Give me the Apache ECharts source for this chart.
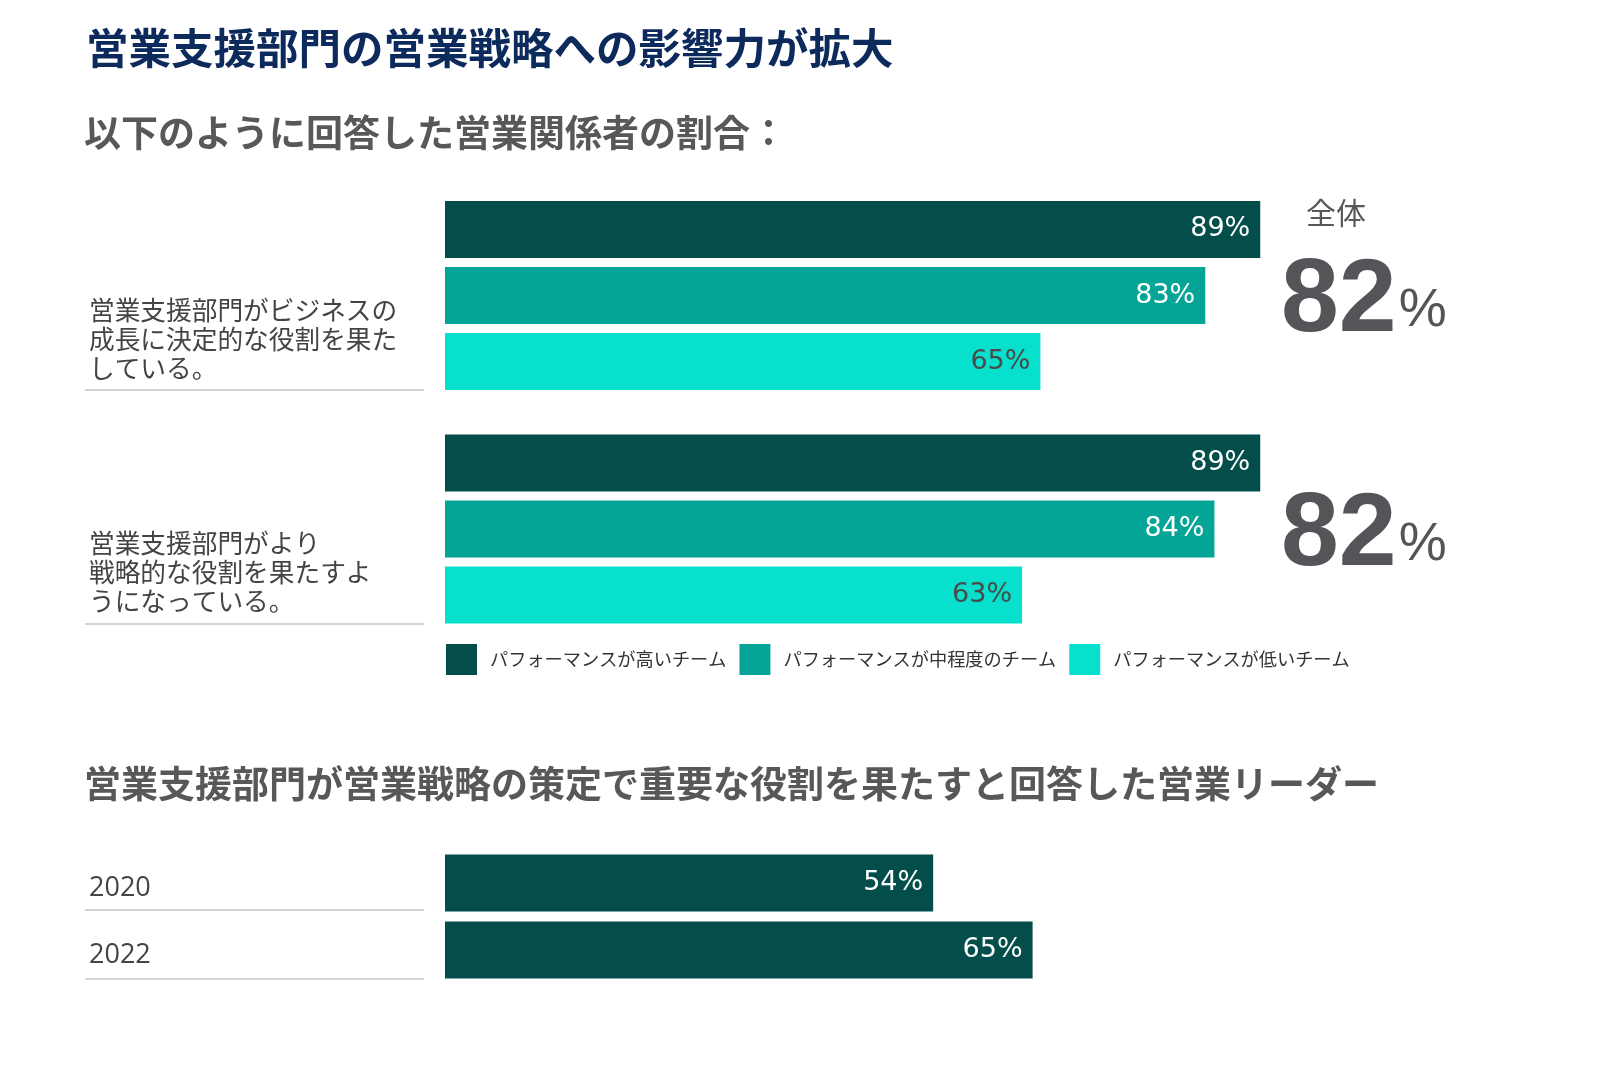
<!DOCTYPE html>
<html><head><meta charset="utf-8">
<script src="https://cdn.jsdelivr.net/npm/echarts@6/dist/echarts.min.js"></script>
<style>html,body{margin:0;padding:0;background:#fff}#c{width:1600px;height:1073px}</style>
</head><body><div id="c"></div>
<script>
const mainTitle = '営業支援部門の営業戦略への影響力が拡大';
const subTitle1 = '以下のように回答した営業関係者の割合：';
const subTitle2 = '営業支援部門が営業戦略の策定で重要な役割を果たすと回答した営業リーダー';
const overallLabel = '全体';
const categories = ['営業支援部門がビジネスの\n成長に決定的な役割を果た\nしている。', '営業支援部門がより\n戦略的な役割を果たすよ\nうになっている。'];
const seriesNames = ['パフォーマンスが高いチーム', 'パフォーマンスが中程度のチーム', 'パフォーマンスが低いチーム'];
const highPerf = [89, 89];
const midPerf = [83, 84];
const lowPerf = [65, 63];
const overall = [82, 82];
const years = ['2020', '2022'];
const leaderValues = [54, 65];

const colors = ['#034e4a', '#04a597', '#06e0cc'];
const labelColors = ['#ffffff', '#ffffff', '#4a4a4a'];
const jp = '"Noto Sans CJK JP", "Noto Sans", sans-serif';
const num = '"DejaVu Sans", sans-serif';

const chart = echarts.init(document.getElementById('c'));
const topData = [highPerf, midPerf, lowPerf];

const barLabel = (c) => ({
  show: true, position: 'insideRight', distance: 10,
  formatter: '{c}%', color: c, fontSize: 27, letterSpacing: 1, fontFamily: num
});

const option = {
  animation: false,
  backgroundColor: '#ffffff',
  title: [
    { text: mainTitle, left: 86, top: 27, padding: 0,
      textStyle: { fontSize: 42.5, fontWeight: 'bold', color: '#0d2a5c', fontFamily: jp } },
    { text: subTitle1, left: 84, top: 114, padding: 0,
      textStyle: { fontSize: 37, fontWeight: 'bold', color: '#58585a', fontFamily: jp } },
    { text: subTitle2, left: 84, top: 765, padding: 0,
      textStyle: { fontSize: 37, fontWeight: 'bold', color: '#58585a', fontFamily: jp } },
    { text: overallLabel, left: 1306, top: 198, padding: 0,
      textStyle: { fontSize: 30, fontWeight: 'normal', color: '#58585a', fontFamily: jp } }
  ],
  legend: {
    left: 446, top: 644, padding: 0, itemWidth: 31, itemHeight: 31, itemGap: 13,
    icon: 'rect', data: seriesNames,
    textStyle: { fontSize: 18.2, color: '#333', fontFamily: jp, padding: [0, 0, 0, 8] }
  },
  grid: [
    { left: 445, width: 916, top: 178.75, height: 467 },
    { left: 445, width: 904, top: 849.5, height: 134 }
  ],
  xAxis: [
    { type: 'value', gridIndex: 0, min: 0, max: 100, show: false },
    { type: 'value', gridIndex: 1, min: 0, max: 100, show: false }
  ],
  yAxis: [
    { type: 'category', gridIndex: 0, data: categories, inverse: true,
      axisLine: { show: false }, axisTick: { show: false },
      axisLabel: { align: 'left', margin: 356, verticalAlign: 'top', lineHeight: 29,
        fontSize: 25.7, color: '#444', fontFamily: jp } },
    { type: 'category', gridIndex: 0, position: 'right', data: overall, inverse: true,
      axisLine: { show: false }, axisTick: { show: false },
      axisLabel: { align: 'left', margin: -80, padding: [14, 0, 0, 0],
        formatter: v => '{n|' + v + '}{p|%}',
        rich: {
          n: { fontSize: 104, fontWeight: 'bold', color: '#555459', fontFamily: '"Liberation Sans", sans-serif', verticalAlign: 'bottom' },
          p: { fontSize: 54, color: '#555459', fontFamily: '"Liberation Sans", sans-serif', verticalAlign: 'bottom', padding: [0, 0, 16, 2] }
        } } },
    { type: 'category', gridIndex: 1, data: years, inverse: true,
      axisLine: { show: false }, axisTick: { show: false },
      axisLabel: { align: 'left', margin: 356, fontSize: 27, color: '#444', fontFamily: '"Open Sans", sans-serif',
        verticalAlign: 'top', lineHeight: 10 } }
  ],
  series: [
    ...topData.map((d, i) => ({
      type: 'bar', name: seriesNames[i], xAxisIndex: 0, yAxisIndex: 0, data: d,
      barWidth: 57, barGap: '16%', itemStyle: { color: colors[i] }, label: barLabel(labelColors[i])
    })),
    { type: 'bar', name: 'leaders', xAxisIndex: 1, yAxisIndex: 2, data: leaderValues,
      barWidth: 57, itemStyle: { color: colors[0] }, label: barLabel('#ffffff') }
  ],
  graphic: [390, 624, 910, 979].map(y => ({
    type: 'line', shape: { x1: 85, y1: y, x2: 424, y2: y },
    style: { stroke: '#d4d4d4', lineWidth: 2 }, silent: true
  }))
};
chart.setOption(option);
</script></body></html>
